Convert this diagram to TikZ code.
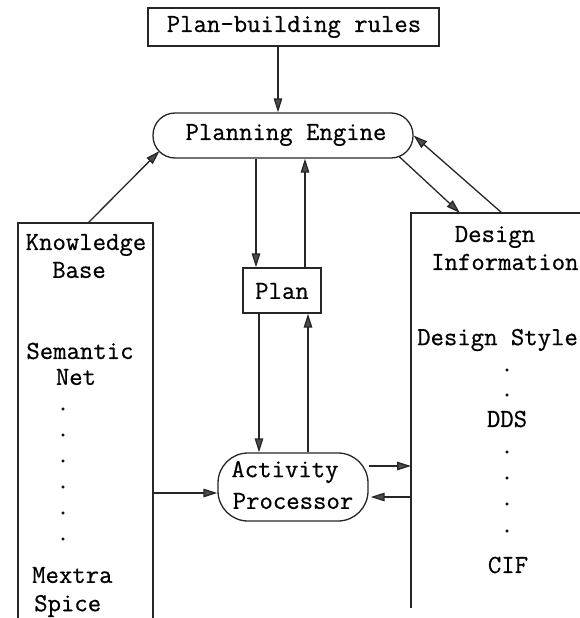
\documentclass[tikz,border=0pt]{standalone}
\usepackage{fontspec}
\newfontfamily\tyfont{Latin Modern Mono}[FakeBold=0.6]
\usetikzlibrary{arrows.meta}
\tikzset{
  txt/.style={font=\tyfont\fontsize{26}{30}\selectfont, inner sep=0pt, anchor=center},
  ln/.style={line width=1.3pt, draw=black!85},
  arr/.style={ln, -{Triangle[length=14pt,width=8.5pt,fill=black!70]}},
  boxed/.style={ln, draw, minimum height=38pt, inner sep=0pt},
}
\begin{document}
\begin{tikzpicture}[x=1pt,y=-1pt]
\useasboundingbox (0,0) rectangle (580,618);
% top boxes
\node[boxed, minimum width=291pt, minimum height=38pt] (pbr) at (293.5,27) {};
\node[txt] (pbrt) at (294,27) {Plan-building rules};
\node[ln, draw, rounded corners=22pt, minimum width=260pt, minimum height=45pt, inner sep=0pt] (pe) at (283,135.5) {};
\node[txt] (pet) at (286,135) {Planning Engine};
\node[ln, draw, minimum width=78pt, minimum height=45pt, inner sep=0pt] (plan) at (282,290.5) {};
\node[txt] (plant) at (282,291) {Plan};
\node[ln, draw, rounded corners=30pt, minimum width=150pt, minimum height=68pt, inner sep=0pt] (ap) at (293,487) {};
\node[txt] (apt1) at (285,472) {Activity};
\node[txt] (apt2) at (293,501) {Processor};
% Knowledge base column
\draw[ln] (18,618) -- (18,223) -- (153,223) -- (153,618);
\node[txt] (kb1) at (86,245) {Knowledge};
\node[txt] (kb2) at (79,270) {Base};
\node[txt] (kb3) at (80,351) {Semantic};
\node[txt] (kb4) at (76,377) {Net};
\foreach \i/\yy in {1/409,2/435,3/461,4/487,5/513,6/539}{
  \node[txt] (kbd\i) at (63,\yy) {.};
}
\node[txt, anchor=west] (kb5) at (32,575) {Mextra};
\node[txt, anchor=west] (kb6) at (34,606) {Spice};
% Design information column
\draw[ln] (411,608) -- (411,213) -- (580,213);
\node[txt] (di1) at (495,237) {Design};
\node[txt, anchor=west] (di2) at (431,262) {Information};
\node[txt, anchor=west] (di3) at (417,340) {Design Style};
\foreach \i/\yy in {1/370,2/395}{
  \node[txt] (did\i) at (507,\yy) {.};
}
\node[txt] (di4) at (507,419) {DDS};
\foreach \i/\yy in {3/452,4/478,5/504,6/531}{
  \node[txt] (did\i) at (507,\yy) {.};
}
\node[txt] (di5) at (508,565) {CIF};
% connector end points
\coordinate (kbtop) at (88,223);
\coordinate (kbr) at (153,493);
\coordinate (ditopa) at (460,213);
\coordinate (ditopb) at (502,213);
\coordinate (dila) at (411,466);
\coordinate (dilb) at (411,497);
\coordinate (pesw) at (159.5,151);
\coordinate (pese) at (398.5,156);
% connectors
\draw[arr] (pbr.south -| 278,0) -- (pe.north -| 278,0);
\draw[arr] (pe.south -| 256,0) -- (plan.north -| 256,0);
\draw[arr] (plan.north -| 305,0) -- (pe.south -| 305,0);
\draw[arr] (plan.south -| 259,0) -- (ap.north -| 259,0);
\draw[arr] (ap.north -| 308,0) -- (plan.south -| 308,0);
\draw[arr] (kbr) -- (ap.west |- kbr);
\draw[arr] (ap.east |- dila) -- (dila);
\draw[arr] (dilb) -- ([xshift=2pt]ap.east |- dilb);
\draw[arr] (kbtop) -- (pesw);
\draw[arr] (pese) -- (ditopa);
\draw[arr] (ditopb) -- (pe.east);
\end{tikzpicture}
\end{document}
